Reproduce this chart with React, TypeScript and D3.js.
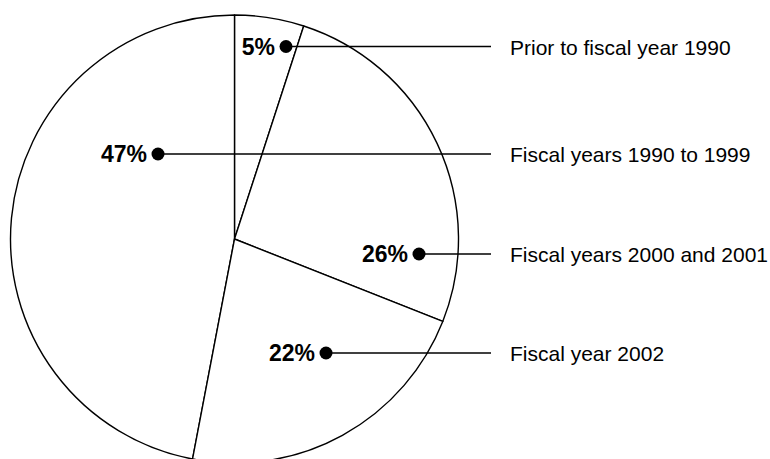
import React from "react";
import * as d3 from "d3";

// Data (legend order)
const categories = [
  "Prior to fiscal year 1990",
  "Fiscal years 1990 to 1999",
  "Fiscal years 2000 and 2001",
  "Fiscal year 2002",
];
const values = [5, 47, 26, 22];
const percentLabels = ["5%", "47%", "26%", "22%"];
// Clockwise order of slices starting at 12 o'clock (indices into categories)
const sliceOrder = [0, 2, 3, 1];

// Layout constants (label dot anchors, legend rows)
const dotX = [286, 158, 419, 326];
const rowY = [46.5, 154, 254, 353];

const W = 770;
const H = 459;
const cx = 234.5;
const cy = 239;
const R = 224;
const lineEndX = 491;
const legendX = 510;

export default function App() {
  const data = categories.map((c, i) => ({ c, v: values[i], i }));
  const pie = d3
    .pie<any>()
    .value((d) => d.v)
    .sort((a, b) => sliceOrder.indexOf(a.i) - sliceOrder.indexOf(b.i));
  const arcs = pie(data);
  const arcGen = d3.arc<any>().innerRadius(0).outerRadius(R);

  return (
    <svg
      width={W}
      height={H}
      style={{ position: "absolute", left: 0, top: 0, background: "#fff" }}
      fontFamily="'Liberation Sans', Arial, Helvetica, sans-serif"
    >
      <rect width={W} height={H} fill="#fff" />
      <g transform={`translate(${cx},${cy})`}>
        {arcs.map((a, k) => (
          <path
            key={k}
            d={arcGen(a) as string}
            fill="#fff"
            stroke="#000"
            strokeWidth={1.4}
            strokeLinejoin="round"
          />
        ))}
      </g>
      {categories.map((c, i) => (
        <g key={c}>
          <line
            x1={dotX[i]}
            x2={lineEndX}
            y1={rowY[i]}
            y2={rowY[i]}
            stroke="#000"
            strokeWidth={1.3}
          />
          <circle cx={dotX[i]} cy={rowY[i]} r={6.5} fill="#000" />
          <text
            x={dotX[i] - 11}
            y={rowY[i] + 8}
            textAnchor="end"
            fontSize={23}
            fontWeight="bold"
            fill="#000"
          >
            {percentLabels[i]}
          </text>
          <text x={legendX} y={rowY[i] + 8} fontSize={21} fill="#000">
            {c}
          </text>
        </g>
      ))}
    </svg>
  );
}
